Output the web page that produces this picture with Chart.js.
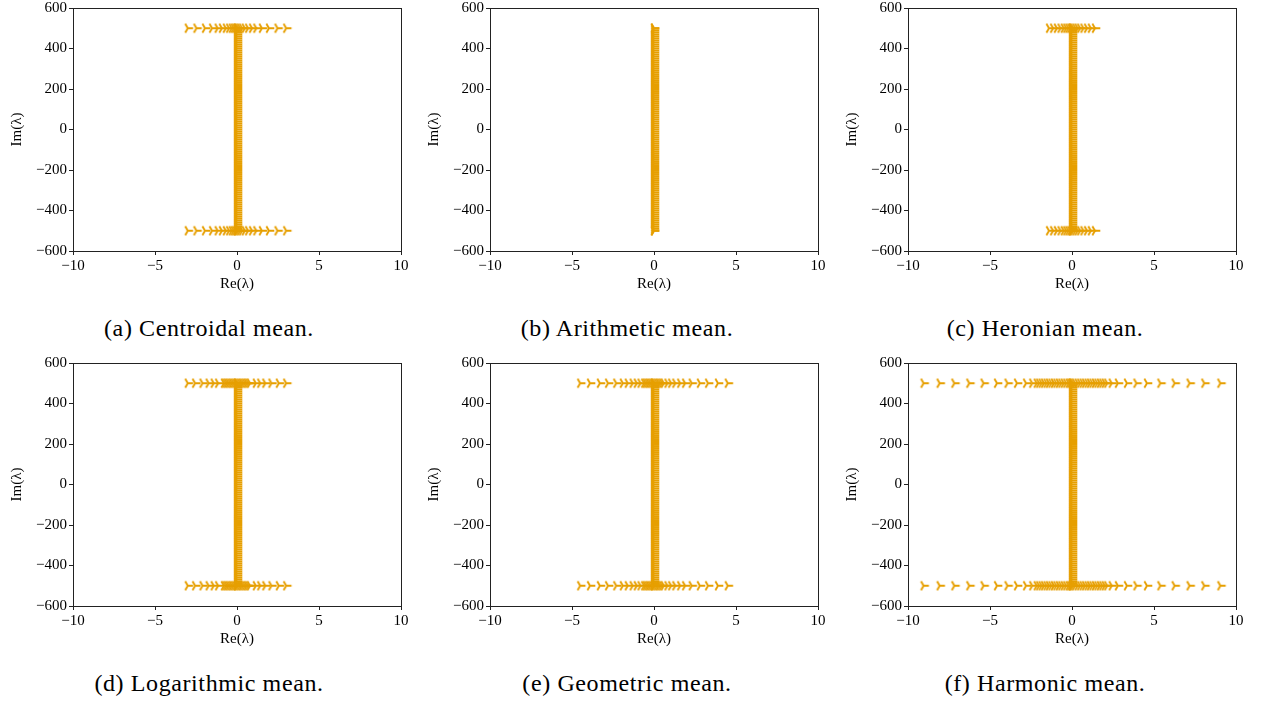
<!DOCTYPE html>
<html>
<head>
<meta charset="utf-8">
<script src="https://cdn.jsdelivr.net/npm/chart.js@4"></script>
<style>
  body { margin: 0; background: #fff; width: 1263px; height: 704px; position: relative; overflow: hidden; }
  .panel { position: absolute; width: 413px; height: 303px; }
  .caption { position: absolute; width: 418px; text-align: center; font-family: 'Liberation Serif', serif; font-size: 24px; letter-spacing: 0.6px; color: #000; }
</style>
</head>
<body>
<script>
// Imaginary parts of the dense column near Re = 0 (shared by all panels)
const columnIm = [
  -500, -490, -480, -470, -460, -450, -440, -430, -420, -410,
  -400, -390, -380, -370, -360, -350, -340, -330, -320, -310,
  -300, -290, -280, -270, -260, -250, -240, -230, -220, -210,
  -200, -190, -180, -170, -160, -150, -140, -130, -120, -110,
  -100, -90, -80, -70, -60, -50, -40, -30, -20, -10, 0,
  10, 20, 30, 40, 50, 60, 70, 80, 90, 100,
  110, 120, 130, 140, 150, 160, 170, 180, 190, 200,
  210, 220, 230, 240, 250, 260, 270, 280, 290, 300,
  310, 320, 330, 340, 350, 360, 370, 380, 390, 400,
  410, 420, 430, 440, 450, 460, 470, 480, 490, 500
];
const rowIm = [500, -500];

// Real parts of the eigenvalues on the rows Im = +-500
const reCentroidal = [-3.0, -2.47, -1.95, -1.52, -1.18, -0.92, -0.68, -0.48, -0.32, -0.2, -0.1, 0,
  0.1, 0.2, 0.32, 0.48, 0.68, 0.92, 1.18, 1.52, 1.95, 2.47, 3.0];
const reArithmetic = [0];
const reHeronian = [-1.4, -1.15, -0.92, -0.7, -0.5, -0.35, -0.22, -0.1, 0,
  0.1, 0.22, 0.35, 0.5, 0.7, 0.92, 1.15, 1.4];
const reLogarithmic = [-3.0, -2.55, -2.1, -1.73, -1.42, -1.15, -0.8, -0.7, -0.6, -0.5, -0.4, -0.3, -0.2, -0.1, 0,
  0.1, 0.2, 0.3, 0.4, 0.5, 0.6, 0.7, 0.8, 1.15, 1.42, 1.73, 2.1, 2.55, 3.0];
const reGeometric = [-4.5, -3.9, -3.3, -2.8, -2.3, -1.9, -1.6, -1.3, -1.05, -0.82, -0.6, -0.5, -0.4, -0.3, -0.2, -0.1, 0,
  0.1, 0.2, 0.3, 0.4, 0.5, 0.6, 0.82, 1.05, 1.3, 1.6, 1.9, 2.3, 2.8, 3.3, 3.9, 4.5];
const reHarmonic = [-9.05, -8.07, -7.17, -6.26, -5.39, -4.57, -3.93, -3.35, -2.8, -2.42,
  -2.15, -2.0, -1.85, -1.7, -1.55, -1.4, -1.25, -1.1, -0.95, -0.8, -0.65, -0.5, -0.35, -0.2, -0.1, 0,
  0.1, 0.2, 0.35, 0.5, 0.65, 0.8, 0.95, 1.1, 1.25, 1.4, 1.55, 1.7, 1.85, 2.0, 2.15,
  2.42, 2.8, 3.35, 3.93, 4.57, 5.39, 6.26, 7.17, 8.07, 9.05];

const captions = ['(a) Centroidal mean.', '(b) Arithmetic mean.', '(c) Heronian mean.',
  '(d) Logarithmic mean.', '(e) Geometric mean.', '(f) Harmonic mean.'];
const rows = [reCentroidal, reArithmetic, reHeronian, reLogarithmic, reGeometric, reHarmonic];

const xTicks = [-10, -5, 0, 5, 10];
const yTicks = [-600, -400, -200, 0, 200, 400, 600];

const orange = '#e69f00';
const axisColor = '#222';
const serif = "'Liberation Serif', serif";

// axes origin (top-left of plot area) for each panel
const axLeft = [73, 490, 908, 73, 490, 908];
const axTop = [7, 7, 7, 362, 362, 362];

// tri_right marker like matplotlib "4"
function makeMarker() {
  const c = document.createElement('canvas');
  c.width = 14; c.height = 14;
  const g = c.getContext('2d');
  const r = 5.3, cx = 7, cy = 7;
  g.strokeStyle = orange;
  g.lineWidth = 1.9;
  g.beginPath();
  g.moveTo(cx, cy); g.lineTo(cx + r, cy);
  g.moveTo(cx, cy); g.lineTo(cx - r / 2, cy - 0.866 * r);
  g.moveTo(cx, cy); g.lineTo(cx - r / 2, cy + 0.866 * r);
  g.stroke();
  return c;
}
const marker = makeMarker();

const frame = {
  id: 'frame',
  afterDraw(chart) {
    const a = chart.chartArea, ctx = chart.ctx;
    ctx.save();
    ctx.strokeStyle = axisColor;
    ctx.lineWidth = 1;
    ctx.strokeRect(Math.round(a.left) + 0.5, Math.round(a.top) + 0.5, Math.round(a.right - a.left), Math.round(a.bottom - a.top));
    ctx.restore();
  }
};

const minus = v => (v < 0 ? '\u2212' + Math.abs(v) : String(v));

function buildPanel(i) {
  const div = document.createElement('div');
  div.className = 'panel';
  div.style.left = (axLeft[i] - 73) + 'px';
  div.style.top = (axTop[i] - 10) + 'px';
  const cv = document.createElement('canvas');
  cv.width = 413;
  cv.height = 303;
  div.appendChild(cv);
  document.body.appendChild(div);

  const colPts = columnIm.map(y => ({ x: 0, y: y }));
  const rowPts = [];
  rowIm.forEach(y => rows[i].forEach(x => rowPts.push({ x: x, y: y })));

  new Chart(cv, {
    type: 'scatter',
    data: {
      datasets: [
        { data: colPts, pointStyle: marker, pointRadius: 5, pointHoverRadius: 5 },
        { data: rowPts, pointStyle: marker, pointRadius: 5, pointHoverRadius: 5 }
      ]
    },
    options: {
      responsive: false,
      animation: false,
      events: [],
      layout: { padding: { top: 10, right: 12, left: 0, bottom: 0 } },
      plugins: { legend: { display: false }, tooltip: { enabled: false } },
      scales: {
        x: {
          type: 'linear', min: -10, max: 10,
          afterBuildTicks: s => { s.ticks = xTicks.map(v => ({ value: v })); },
          afterFit: s => { s.height = 49; },
          grid: { display: true, drawOnChartArea: false, color: axisColor, tickLength: 4 },
          border: { display: true, color: axisColor },
          ticks: { color: '#000', padding: 2, autoSkip: false, maxRotation: 0, font: { family: serif, size: 15 }, callback: minus },
          title: { display: true, text: 'Re(\u03bb)', color: '#000', font: { family: serif, size: 15 }, padding: { top: 0, bottom: 7 } }
        },
        y: {
          type: 'linear', min: -600, max: 600,
          afterBuildTicks: s => { s.ticks = yTicks.map(v => ({ value: v })); },
          afterFit: s => { s.width = 73; },
          grid: { display: true, drawOnChartArea: false, color: axisColor, tickLength: 4 },
          border: { display: true, color: axisColor },
          ticks: { color: '#000', padding: 2, autoSkip: false, font: { family: serif, size: 15 }, callback: minus },
          title: { display: true, text: 'Im(\u03bb)', color: '#000', font: { family: serif, size: 15 }, padding: { top: 8, bottom: 0 } }
        }
      }
    },
    plugins: [frame]
  });

  const cap = document.createElement('div');
  cap.className = 'caption';
  cap.textContent = captions[i];
  cap.style.left = (i % 3) * 418 + 'px';
  cap.style.top = (i < 3 ? 315 : 670) + 'px';
  document.body.appendChild(cap);
}

for (let i = 0; i < 6; i++) buildPanel(i);
</script>
</body>
</html>
